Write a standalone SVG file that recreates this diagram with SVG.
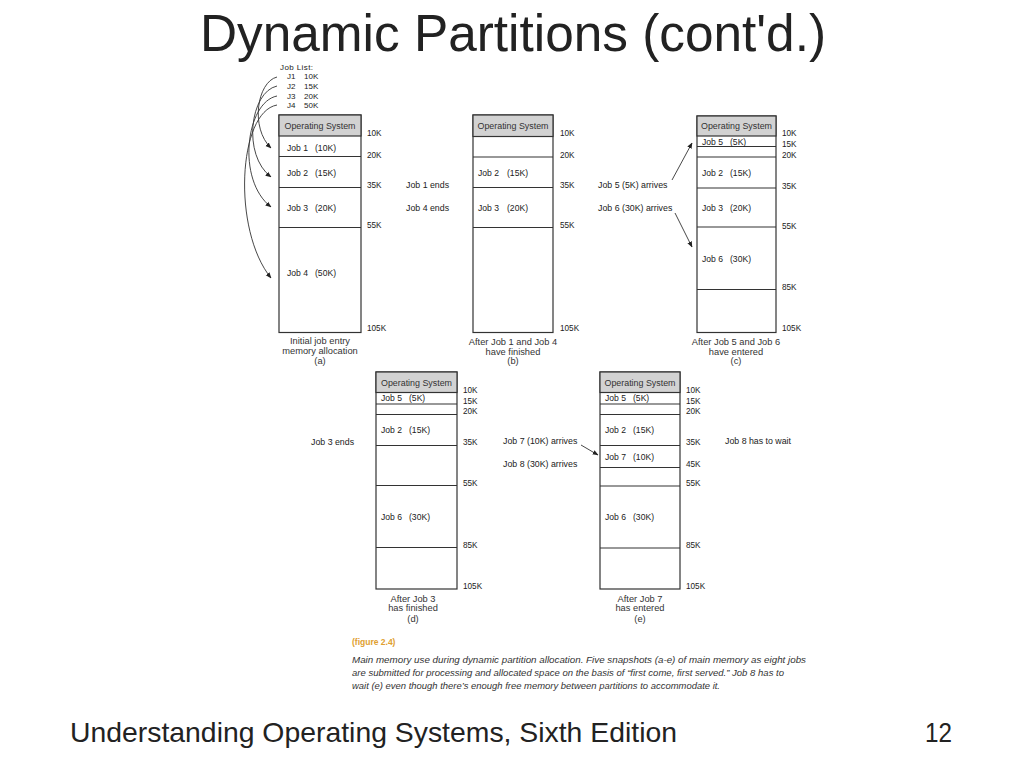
<svg xmlns="http://www.w3.org/2000/svg" width="1024" height="768" viewBox="0 0 1024 768">
<defs>
<marker id="ah" viewBox="0 0 10 10" refX="9" refY="5" markerWidth="6" markerHeight="6" orient="auto" markerUnits="userSpaceOnUse">
<path d="M0,1 L10,5 L0,9 z" fill="#222"/>
</marker>
<style>
text{font-family:"Liberation Sans",Arial,sans-serif;fill:#222}
.t{font-size:8px}
.j{font-size:8.6px}
.s{font-size:8.8px}
.os{font-size:8.9px;text-anchor:middle;fill:#333}
.k{font-size:8.2px}
.cap{font-size:9.3px;text-anchor:middle;fill:#333}
.box{fill:#fff;stroke:#333;stroke-width:1.2}
.osr{fill:#d2d2d2;stroke:#333;stroke-width:1.2}
.ln{stroke:#333;stroke-width:1.1}
.conn{fill:none;stroke:#333;stroke-width:0.9;marker-end:url(#ah)}
.fig{font-size:9px;fill:#333;font-style:italic}
</style>
</defs>
<rect width="1024" height="768" fill="#fff"/>
<text x="200" y="51" font-size="52" textLength="626" lengthAdjust="spacingAndGlyphs" fill="#1a1a1a">Dynamic Partitions (cont'd.)</text>

<g id="joblist">
<text class="t" x="280" y="70" textLength="33">Job List:</text>
<text class="t" x="287" y="79">J1</text><text class="t" x="304" y="79">10K</text>
<text class="t" x="287" y="89">J2</text><text class="t" x="304" y="89">15K</text>
<text class="t" x="287" y="99">J3</text><text class="t" x="304" y="99">20K</text>
<text class="t" x="287" y="108">J4</text><text class="t" x="304" y="108">50K</text>
</g>

<g id="snap-a">
<rect class="box" x="279" y="115" width="82" height="217.5"/>
<rect class="osr" x="279" y="115" width="82" height="21"/>
<text class="os" x="320" y="128.5">Operating System</text>
<line class="ln" x1="279" y1="156.5" x2="361" y2="156.5"/>
<line class="ln" x1="279" y1="187.5" x2="361" y2="187.5"/>
<line class="ln" x1="279" y1="227.5" x2="361" y2="227.5"/>
<text class="j" x="287" y="151">Job 1</text><text class="j" x="315" y="151">(10K)</text>
<text class="j" x="287" y="176">Job 2</text><text class="j" x="315" y="176">(15K)</text>
<text class="j" x="287" y="211">Job 3</text><text class="j" x="315" y="211">(20K)</text>
<text class="j" x="287" y="276">Job 4</text><text class="j" x="315" y="276">(50K)</text>
<text class="k" x="367" y="136">10K</text>
<text class="k" x="367" y="158">20K</text>
<text class="k" x="367" y="188">35K</text>
<text class="k" x="367" y="228">55K</text>
<text class="k" x="367" y="331">105K</text>
<text class="cap" x="320" y="344">Initial job entry</text>
<text class="cap" x="320" y="354">memory allocation</text>
<text class="cap" x="320" y="364">(a)</text>
</g>

<g id="snap-b">
<rect class="box" x="473" y="115" width="80" height="217.5"/>
<rect class="osr" x="473" y="115" width="80" height="21.5"/>
<text class="os" x="513" y="128.5">Operating System</text>
<line class="ln" x1="473" y1="157" x2="553" y2="157"/>
<line class="ln" x1="473" y1="187.5" x2="553" y2="187.5"/>
<line class="ln" x1="473" y1="227.5" x2="553" y2="227.5"/>
<text class="j" x="478" y="176">Job 2</text><text class="j" x="507" y="176">(15K)</text>
<text class="j" x="478" y="211">Job 3</text><text class="j" x="507" y="211">(20K)</text>
<text class="k" x="560" y="136">10K</text>
<text class="k" x="560" y="158">20K</text>
<text class="k" x="560" y="188">35K</text>
<text class="k" x="560" y="228">55K</text>
<text class="k" x="560" y="331">105K</text>
<text class="s" x="406" y="188">Job 1 ends</text>
<text class="s" x="406" y="211">Job 4 ends</text>
<text class="cap" x="513" y="345">After Job 1 and Job 4</text>
<text class="cap" x="513" y="355">have finished</text>
<text class="cap" x="513" y="364">(b)</text>
</g>

<g id="snap-c">
<rect class="box" x="697" y="116" width="79" height="216.5"/>
<rect class="osr" x="697" y="116" width="79" height="20"/>
<text class="os" x="736.5" y="128.5">Operating System</text>
<line class="ln" x1="697" y1="146.5" x2="776" y2="146.5"/>
<line class="ln" x1="697" y1="157" x2="776" y2="157"/>
<line class="ln" x1="697" y1="188" x2="776" y2="188"/>
<line class="ln" x1="697" y1="227" x2="776" y2="227"/>
<line class="ln" x1="697" y1="289.5" x2="776" y2="289.5"/>
<text class="j" x="702" y="145">Job 5</text><text class="j" x="730" y="145">(5K)</text>
<text class="j" x="702" y="176">Job 2</text><text class="j" x="730" y="176">(15K)</text>
<text class="j" x="702" y="211">Job 3</text><text class="j" x="730" y="211">(20K)</text>
<text class="j" x="702" y="262">Job 6</text><text class="j" x="730" y="262">(30K)</text>
<text class="k" x="782" y="136">10K</text>
<text class="k" x="782" y="147">15K</text>
<text class="k" x="782" y="158">20K</text>
<text class="k" x="782" y="189">35K</text>
<text class="k" x="782" y="229">55K</text>
<text class="k" x="782" y="290">85K</text>
<text class="k" x="782" y="331">105K</text>
<text class="s" x="598" y="188">Job 5 (5K) arrives</text>
<text class="s" x="598" y="211">Job 6 (30K) arrives</text>
<text class="cap" x="736" y="345">After Job 5 and Job 6</text>
<text class="cap" x="736" y="355">have entered</text>
<text class="cap" x="736" y="364">(c)</text>
</g>

<g id="snap-d">
<rect class="box" x="376" y="372" width="81" height="217"/>
<rect class="osr" x="376" y="372" width="81" height="20.5"/>
<text class="os" x="416.5" y="385.5">Operating System</text>
<line class="ln" x1="376" y1="404" x2="457" y2="404"/>
<line class="ln" x1="376" y1="414.5" x2="457" y2="414.5"/>
<line class="ln" x1="376" y1="445.5" x2="457" y2="445.5"/>
<line class="ln" x1="376" y1="485.5" x2="457" y2="485.5"/>
<line class="ln" x1="376" y1="547.5" x2="457" y2="547.5"/>
<text class="j" x="381" y="401">Job 5</text><text class="j" x="409" y="401">(5K)</text>
<text class="j" x="381" y="433">Job 2</text><text class="j" x="409" y="433">(15K)</text>
<text class="j" x="381" y="520">Job 6</text><text class="j" x="409" y="520">(30K)</text>
<text class="k" x="463" y="393">10K</text>
<text class="k" x="463" y="404">15K</text>
<text class="k" x="463" y="414">20K</text>
<text class="k" x="463" y="445">35K</text>
<text class="k" x="463" y="486">55K</text>
<text class="k" x="463" y="548">85K</text>
<text class="k" x="463" y="589">105K</text>
<text class="s" x="311" y="445">Job 3 ends</text>
<text class="cap" x="413" y="602">After Job 3</text>
<text class="cap" x="413" y="611">has finished</text>
<text class="cap" x="413" y="622">(d)</text>
</g>

<g id="snap-e">
<rect class="box" x="600" y="372" width="80" height="217"/>
<rect class="osr" x="600" y="372" width="80" height="20.5"/>
<text class="os" x="640" y="385.5">Operating System</text>
<line class="ln" x1="600" y1="404" x2="680" y2="404"/>
<line class="ln" x1="600" y1="414.5" x2="680" y2="414.5"/>
<line class="ln" x1="600" y1="445.5" x2="680" y2="445.5"/>
<line class="ln" x1="600" y1="467.5" x2="680" y2="467.5"/>
<line class="ln" x1="600" y1="486" x2="680" y2="486"/>
<line class="ln" x1="600" y1="548" x2="680" y2="548"/>
<text class="j" x="605" y="401">Job 5</text><text class="j" x="633" y="401">(5K)</text>
<text class="j" x="605" y="433">Job 2</text><text class="j" x="633" y="433">(15K)</text>
<text class="j" x="605" y="460">Job 7</text><text class="j" x="633" y="460">(10K)</text>
<text class="j" x="605" y="520">Job 6</text><text class="j" x="633" y="520">(30K)</text>
<text class="k" x="686" y="393">10K</text>
<text class="k" x="686" y="404">15K</text>
<text class="k" x="686" y="414">20K</text>
<text class="k" x="686" y="445">35K</text>
<text class="k" x="686" y="467">45K</text>
<text class="k" x="686" y="486">55K</text>
<text class="k" x="686" y="548">85K</text>
<text class="k" x="686" y="589">105K</text>
<text class="s" x="503" y="444">Job 7 (10K) arrives</text>
<text class="s" x="503" y="467">Job 8 (30K) arrives</text>
<text class="s" x="725" y="444">Job 8 has to wait</text>
<text class="cap" x="640" y="602">After Job 7</text>
<text class="cap" x="640" y="611">has entered</text>
<text class="cap" x="640" y="622">(e)</text>
</g>

<g id="connectors">
<path class="conn" d="M277,77 C257,82 250,128 271,148"/>
<path class="conn" d="M277,86 C250,92 242,155 271,177"/>
<path class="conn" d="M277,96 C246,102 236,180 271,207"/>
<path class="conn" d="M277,105 C238,112 232,230 271,278"/>
<path class="conn" d="M672,180 L692,143"/>
<path class="conn" d="M675,213 L692,247"/>
<path class="conn" d="M581,445 L598,455"/>
</g>

<g id="figcaption">
<text x="352" y="645" font-size="8.5" font-weight="bold" style="fill:#e0a030">(figure 2.4)</text>
<text class="fig" x="352" y="663" textLength="454" lengthAdjust="spacingAndGlyphs">Main memory use during dynamic partition allocation. Five snapshots (a-e) of main memory as eight jobs</text>
<text class="fig" x="352" y="676" textLength="432" lengthAdjust="spacingAndGlyphs">are submitted for processing and allocated space on the basis of “first come, first served.” Job 8 has to</text>
<text class="fig" x="352" y="689" textLength="368" lengthAdjust="spacingAndGlyphs">wait (e) even though there’s enough free memory between partitions to accommodate it.</text>
</g>

<text x="70" y="742" font-size="28" textLength="607" lengthAdjust="spacingAndGlyphs" fill="#1a1a1a">Understanding Operating Systems, Sixth Edition</text>
<text x="925" y="742" font-size="28" textLength="27" lengthAdjust="spacingAndGlyphs" fill="#1a1a1a">12</text>
</svg>
